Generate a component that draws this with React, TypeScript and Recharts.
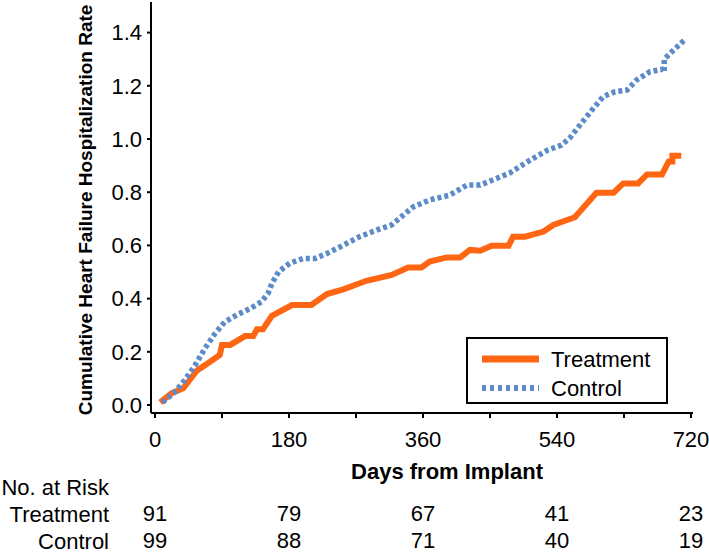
import React from "react";
import { LineChart, Line, XAxis, YAxis, Legend } from "recharts";

const treatmentDays = [7, 22, 38, 56, 74, 87, 90, 101, 121, 132, 137, 145, 157, 184, 210, 231, 253, 284, 318, 340, 358, 369, 392, 410, 423, 437, 452, 475, 481, 497, 522, 535, 564, 593, 616, 629, 649, 661, 681, 690, 695, 695, 707];
const treatmentRate = [0.01, 0.044, 0.063, 0.129, 0.163, 0.188, 0.226, 0.226, 0.259, 0.259, 0.285, 0.285, 0.335, 0.376, 0.376, 0.417, 0.435, 0.467, 0.489, 0.517, 0.517, 0.539, 0.555, 0.555, 0.583, 0.58, 0.599, 0.599, 0.633, 0.633, 0.652, 0.677, 0.706, 0.798, 0.798, 0.833, 0.833, 0.867, 0.867, 0.915, 0.915, 0.937, 0.937];

const controlDays = [10, 27, 40, 54, 67, 81, 94, 112, 128, 143, 152, 157, 166, 181, 199, 215, 231, 249, 275, 300, 318, 331, 347, 369, 396, 419, 437, 459, 477, 504, 528, 546, 557, 571, 587, 602, 618, 634, 647, 665, 681, 684, 684, 695, 711];
const controlRate = [0.01, 0.05, 0.094, 0.15, 0.213, 0.27, 0.313, 0.342, 0.363, 0.388, 0.42, 0.457, 0.501, 0.533, 0.551, 0.551, 0.57, 0.595, 0.633, 0.66, 0.677, 0.708, 0.745, 0.771, 0.789, 0.827, 0.827, 0.852, 0.873, 0.921, 0.959, 0.977, 1.003, 1.053, 1.109, 1.159, 1.178, 1.184, 1.222, 1.253, 1.262, 1.25, 1.3, 1.33, 1.372];

const xTicks = [0, 90, 180, 270, 360, 450, 540, 630, 720];
const yTicks = [0, 0.2, 0.4, 0.6, 0.8, 1.0, 1.2, 1.4];

const riskDays = [0, 180, 360, 540, 720];
const riskTreatment = [91, 79, 67, 41, 23];
const riskControl = [99, 88, 71, 40, 19];

const ORANGE = "#ff6614";
const BLUE = "#5b8bc9";
const FONT = '"Liberation Sans", Arial, Helvetica, sans-serif';

const XTick = (props: any) => {
  const { x, y, payload } = props;
  const i = riskDays.indexOf(payload.value);
  if (i < 0) return <g />;
  return (
    <g fontSize={22} fill="#000" textAnchor="middle">
      <text x={x} y={y + 27}>{payload.value}</text>
      <text x={x} y={y + 101}>{riskTreatment[i]}</text>
      <text x={x} y={y + 128}>{riskControl[i]}</text>
    </g>
  );
};

const LegendBox = () => (
  <svg width={202} height={67} style={{ display: "block" }}>
    <rect x={1} y={1} width={200} height={65} fill="#fff" stroke="#000" strokeWidth={2} />
    <line x1={16} x2={73} y1={22} y2={22} stroke={ORANGE} strokeWidth={7} />
    <line x1={16} x2={73} y1={51} y2={51} stroke={BLUE} strokeWidth={6} strokeDasharray="4 4" />
    <text x={85} y={30} fontSize={22} fontFamily={FONT}>Treatment</text>
    <text x={85} y={59} fontSize={22} fontFamily={FONT}>Control</text>
  </svg>
);

export default function App() {
  const treatment = treatmentDays.map((d, i) => ({ day: d, rate: treatmentRate[i] }));
  const control = controlDays.map((d, i) => ({ day: d, rate: controlRate[i] }));

  return (
    <div style={{ position: "absolute", left: 0, top: 0, width: 709, height: 556, background: "#fff", fontFamily: FONT }}>
      <LineChart width={709} height={556} margin={{ top: 2, right: 16, bottom: 0, left: 0 }}>
        <XAxis
          type="number"
          dataKey="day"
          domain={[-5.4, 722.7]}
          allowDataOverflow
          ticks={xTicks}
          interval={0}
          height={143}
          tickSize={5}
          tickMargin={2}
          axisLine={{ stroke: "#000", strokeWidth: 2 }}
          tickLine={{ stroke: "#000", strokeWidth: 2 }}
          tick={<XTick />}
        />
        <YAxis
          type="number"
          dataKey="rate"
          domain={[-0.03, 1.515]}
          allowDataOverflow
          ticks={yTicks}
          interval={0}
          width={151}
          tickSize={4}
          tickMargin={5}
          tickFormatter={(v: number) => v.toFixed(1)}
          axisLine={{ stroke: "#000", strokeWidth: 2 }}
          tickLine={{ stroke: "#000", strokeWidth: 2 }}
          tick={{ fill: "#000", fontSize: 22 }}
        />
        <Line data={treatment} dataKey="rate" name="Treatment" type="linear" stroke={ORANGE} strokeWidth={6} dot={false} activeDot={false} isAnimationActive={false} />
        <Line data={control} dataKey="rate" name="Control" type="linear" stroke={BLUE} strokeWidth={5.5} strokeDasharray="4 3" dot={false} activeDot={false} isAnimationActive={false} />
        <Legend
          layout="horizontal"
          align="center"
          verticalAlign="middle"
          content={() => <LegendBox />}
          wrapperStyle={{ left: 466, top: 337, width: 202, height: 67 }}
        />
        <text x={447} y={479} textAnchor="middle" fontSize={22} fontWeight="bold" fill="#000">Days from Implant</text>
        <text x={109} y={495} textAnchor="end" fontSize={22} fill="#000">No. at Risk</text>
        <text x={109} y={522} textAnchor="end" fontSize={22} fill="#000">Treatment</text>
        <text x={109} y={549} textAnchor="end" fontSize={22} fill="#000">Control</text>
        <text transform="translate(92,210) rotate(-90)" textAnchor="middle" fontSize={19} fontWeight="bold" fill="#000">Cumulative Heart Failure Hospitalization Rate</text>
      </LineChart>
    </div>
  );
}
